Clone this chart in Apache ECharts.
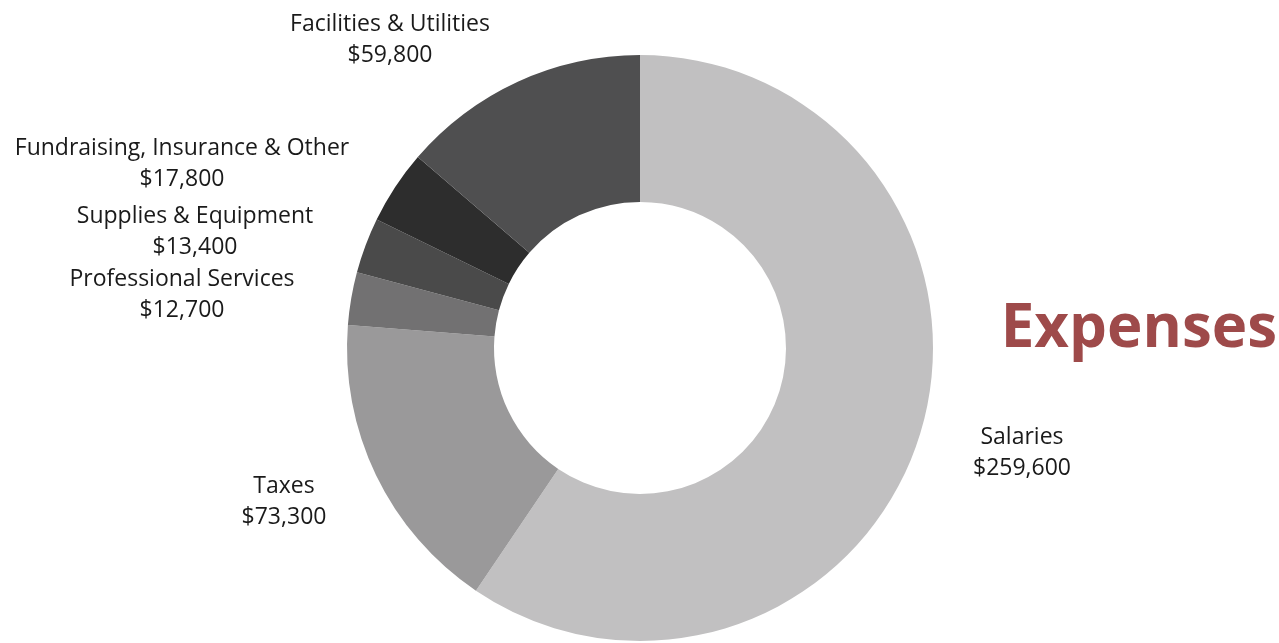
<!DOCTYPE html>
<html>
<head>
<meta charset="utf-8">
<script src="https://cdn.jsdelivr.net/npm/echarts@6/dist/echarts.min.js"></script>
<style>
html,body{margin:0;padding:0;background:#fff;}
#chart{width:1279px;height:643px;}
</style>
</head>
<body>
<div id="chart"></div>
<script>
const categories = ["Salaries", "Taxes", "Professional Services", "Supplies & Equipment", "Fundraising, Insurance & Other", "Facilities & Utilities"];
const values = [259600, 73300, 12700, 13400, 17800, 59800];
const colors = ["#c1c0c1", "#9a999a", "#727172", "#4a4a4a", "#2d2d2d", "#4f4f50"];
const title = "Expenses";

// label anchor layout (centre of each two-line label)
const labelPos = [[1022, 453], [284, 502], [182, 295], [195, 232], [182, 164], [390, 40]];

const chart = echarts.init(document.getElementById('chart'));
const fmt = v => '$' + v.toLocaleString('en-US');
chart.setOption({
  animation: false,
  backgroundColor: '#ffffff',
  title: {
    text: title,
    right: -3,
    top: 295,
    textStyle: { fontFamily: 'Open Sans', fontWeight: 'bold', fontSize: 60, color: '#9e4a4a' }
  },
  series: [{
    type: 'pie',
    center: [640, 348],
    radius: [146, 293],
    startAngle: 90,
    clockwise: true,
    avoidLabelOverlap: false,
    itemStyle: { borderWidth: 0 },
    label: {
      show: true,
      position: 'outside',
      formatter: p => p.name + '\n' + fmt(p.value),
      fontFamily: 'Open Sans',
      fontSize: 23,
      lineHeight: 31,
      color: '#1a1a1a',
      align: 'center'
    },
    labelLine: { show: false },
    labelLayout: p => ({
      x: labelPos[p.dataIndex][0],
      y: labelPos[p.dataIndex][1],
      align: 'center',
      verticalAlign: 'middle'
    }),
    emphasis: { disabled: true },
    data: categories.map((c, i) => ({ name: c, value: values[i], itemStyle: { color: colors[i] } }))
  }]
});
</script>
</body>
</html>
